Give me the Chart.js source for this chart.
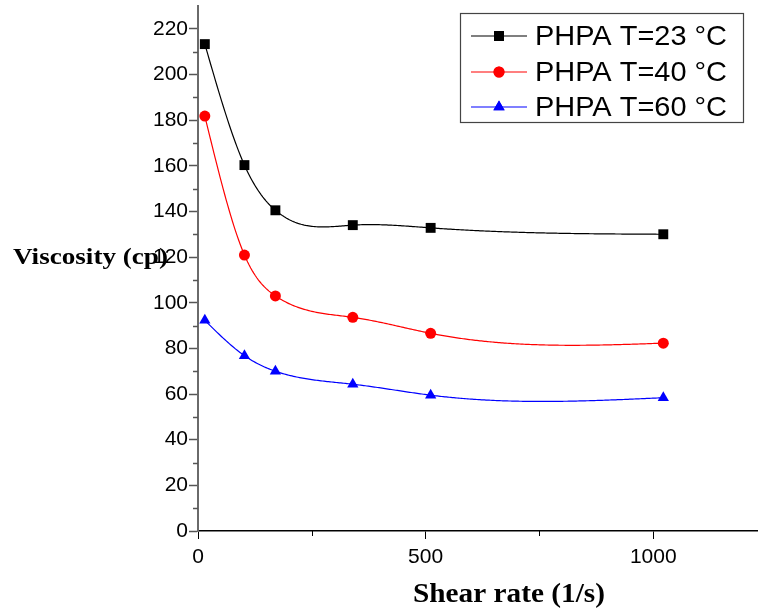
<!DOCTYPE html>
<html>
<head>
<meta charset="utf-8">
<script src="https://cdn.jsdelivr.net/npm/chart.js@4"></script>
<style>
  html, body { margin: 0; padding: 0; background: #fff; }
  #wrap { width: 758px; height: 610px; }
</style>
</head>
<body>
<div id="wrap"><canvas id="viscChart" width="758" height="610"></canvas></div>
<script>
    // shear rate (1/s) and viscosity (cp) for each temperature
    var shearRate = [15, 102, 170, 340, 511, 1022];
    var visc23 = [213.3, 160.3, 140.5, 134.0, 132.8, 130.0];
    var visc40 = [181.8, 120.9, 103.0, 93.6, 86.6, 82.3];
    var visc60 = [92.3, 76.8, 70.0, 64.3, 59.5, 58.4];
    var seriesLabels = ['PHPA T=23 °C', 'PHPA T=40 °C', 'PHPA T=60 °C'];
    var xMajorTicks = [0, 500, 1000];
    var xMinorTicks = [250, 750];

    function toPoints(ys) {
        return shearRate.map(function(x, i) { return { x: x, y: ys[i] }; });
    }

    var seriesStyles = [
        { color: '#000000', point: 'rect', radius: 7 },
        { color: '#ff0000', point: 'circle', radius: 5.5 },
        { color: '#0000ff', point: 'triangle', radius: 6.5 }
    ];
    var seriesData = [visc23, visc40, visc60];

    var datasets = seriesData.map(function(ys, i) {
        var s = seriesStyles[i];
        return {
            label: seriesLabels[i],
            data: toPoints(ys),
            borderColor: s.color,
            backgroundColor: s.color,
            borderWidth: 1.2,
            pointStyle: s.point,
            pointRadius: s.radius,
            pointBorderWidth: 0,
            showLine: false,
            fill: false
        };
    });

    // natural cubic spline y(x) through the data, returns second derivatives
    function splineCoeffs(xs, ys) {
        var n = xs.length, m = new Array(n).fill(0);
        var u = new Array(n).fill(0);
        for (var i = 1; i < n - 1; i++) {
            var sig = (xs[i] - xs[i - 1]) / (xs[i + 1] - xs[i - 1]);
            var p = sig * m[i - 1] + 2;
            m[i] = (sig - 1) / p;
            var d = (ys[i + 1] - ys[i]) / (xs[i + 1] - xs[i]) - (ys[i] - ys[i - 1]) / (xs[i] - xs[i - 1]);
            u[i] = (6 * d / (xs[i + 1] - xs[i - 1]) - sig * u[i - 1]) / p;
        }
        m[n - 1] = 0;
        for (var k = n - 2; k >= 0; k--) m[k] = m[k] * m[k + 1] + u[k];
        return m;
    }

    function splineAt(xs, ys, m, x) {
        var lo = 0, hi = xs.length - 1;
        while (hi - lo > 1) {
            var mid = (lo + hi) >> 1;
            if (xs[mid] > x) hi = mid; else lo = mid;
        }
        var h = xs[hi] - xs[lo];
        var a = (xs[hi] - x) / h, b = (x - xs[lo]) / h;
        return a * ys[lo] + b * ys[hi] + ((a * a * a - a) * m[lo] + (b * b * b - b) * m[hi]) * h * h / 6;
    }

    // smooth connecting curves, drawn under the markers
    var splineLines = {
        id: 'splineLines',
        beforeDatasetsDraw: function(chart) {
            var ctx = chart.ctx;
            var xs = chart.scales.x, ys = chart.scales.y;
            ctx.save();
            chart.data.datasets.forEach(function(ds) {
                var px = ds.data.map(function(p) { return p.x; });
                var py = ds.data.map(function(p) { return p.y; });
                var m = splineCoeffs(px, py);
                ctx.strokeStyle = ds.borderColor;
                ctx.lineWidth = ds.borderWidth;
                ctx.beginPath();
                var steps = 300;
                for (var s = 0; s <= steps; s++) {
                    var x = px[0] + (px[px.length - 1] - px[0]) * s / steps;
                    var X = xs.getPixelForValue(x);
                    var Y = ys.getPixelForValue(splineAt(px, py, m, x));
                    if (s === 0) ctx.moveTo(X, Y); else ctx.lineTo(X, Y);
                }
                ctx.stroke();
            });
            ctx.restore();
        }
    };

    function fitText(ctx, text, x, y, width) {
        var w = ctx.measureText(text).width;
        ctx.save();
        ctx.translate(x, y);
        ctx.scale(width / w, 1);
        ctx.fillText(text, 0, 0);
        ctx.restore();
    }

    // minor ticks, axis titles and the boxed legend
    var decorations = {
        id: 'decorations',
        afterDraw: function(chart) {
            var ctx = chart.ctx;
            var xs = chart.scales.x, ys = chart.scales.y;
            var area = chart.chartArea;
            ctx.save();

            // minor ticks
            ctx.strokeStyle = '#555';
            ctx.lineWidth = 1.5;
            for (var v = 10; v < 230; v += 20) {
                var py = Math.round(ys.getPixelForValue(v)) + 0.5;
                ctx.beginPath();
                ctx.moveTo(area.left - 5, py);
                ctx.lineTo(area.left, py);
                ctx.stroke();
            }
            ctx.strokeStyle = '#000';
            ctx.lineWidth = 1;
            xMinorTicks.forEach(function(v) {
                var px = Math.round(xs.getPixelForValue(v)) + 0.5;
                ctx.beginPath();
                ctx.moveTo(px, area.bottom);
                ctx.lineTo(px, area.bottom + 5);
                ctx.stroke();
            });

            // axis titles
            ctx.fillStyle = '#000';
            ctx.textBaseline = 'alphabetic';
            ctx.textAlign = 'left';
            ctx.font = 'bold 24px "Liberation Serif", "Times New Roman", serif';
            fitText(ctx, 'Viscosity (cp)', 13, 264, 155);
            ctx.font = 'bold 28px "Liberation Serif", "Times New Roman", serif';
            fitText(ctx, 'Shear rate (1/s)', 413, 602, 192);

            // legend box
            ctx.strokeStyle = '#444';
            ctx.lineWidth = 1.2;
            ctx.strokeRect(460.5, 13.5, 283, 109);
            var rowY = [36, 72, 107];
            ctx.font = '28px "Liberation Sans", Arial, sans-serif';
            ctx.textBaseline = 'middle';
            chart.data.datasets.forEach(function(ds, i) {
                var y = rowY[i];
                ctx.strokeStyle = ds.borderColor;
                ctx.lineWidth = 1.2;
                ctx.beginPath();
                ctx.moveTo(471, y);
                ctx.lineTo(527, y);
                ctx.stroke();
                ctx.fillStyle = ds.backgroundColor;
                Chart.helpers.drawPoint(ctx, {
                    pointStyle: ds.pointStyle,
                    radius: ds.pointRadius,
                    borderWidth: 0
                }, 499, y);
                ctx.fill();
                ctx.fillStyle = '#000';
                fitText(ctx, ds.label, 535, y + 1, 192);
            });
            ctx.restore();
        }
    };

    var ctxVisc = document.getElementById('viscChart').getContext('2d');
    var viscChart = new Chart(ctxVisc, {
        type: 'line',
        data: { datasets: datasets },
        plugins: [splineLines, decorations],
        options: {
            responsive: false,
            animation: false,
            clip: false,
            layout: { autoPadding: false, padding: { left: 0, top: 6, right: 0, bottom: 0 } },
            plugins: {
                legend: { display: false },
                tooltip: { enabled: false }
            },
            scales: {
                x: {
                    type: 'linear',
                    min: 0,
                    max: 1230,
                    afterFit: function(scale) {
                        scale.height = 79;
                        scale.paddingRight = 0;
                        scale.paddingLeft = 0;
                    },
                    afterBuildTicks: function(scale) {
                        scale.ticks = xMajorTicks.map(function(v) { return { value: v }; });
                    },
                    border: { display: true, color: '#000', width: 1.5 },
                    grid: { display: true, drawOnChartArea: false, tickLength: 8, tickColor: '#000', tickWidth: 1 },
                    ticks: {
                        color: '#000',
                        padding: 6,
                        maxRotation: 0,
                        callback: function(v) { return String(v); },
                        font: { family: '"Liberation Sans", Arial, sans-serif', size: 21 }
                    }
                },
                y: {
                    type: 'linear',
                    min: 0,
                    max: 230,
                    afterFit: function(scale) {
                        scale.width = 198;
                        scale.paddingTop = 0;
                        scale.paddingBottom = 0;
                    },
                    border: { display: true, color: '#6a6a6a', width: 2 },
                    grid: { display: true, drawOnChartArea: false, tickLength: 9, tickColor: '#555', tickWidth: 1.5 },
                    ticks: {
                        stepSize: 20,
                        includeBounds: false,
                        color: '#000',
                        padding: 1,
                        font: { family: '"Liberation Sans", Arial, sans-serif', size: 21 }
                    }
                }
            }
        }
    });
</script>
</body>
</html>
